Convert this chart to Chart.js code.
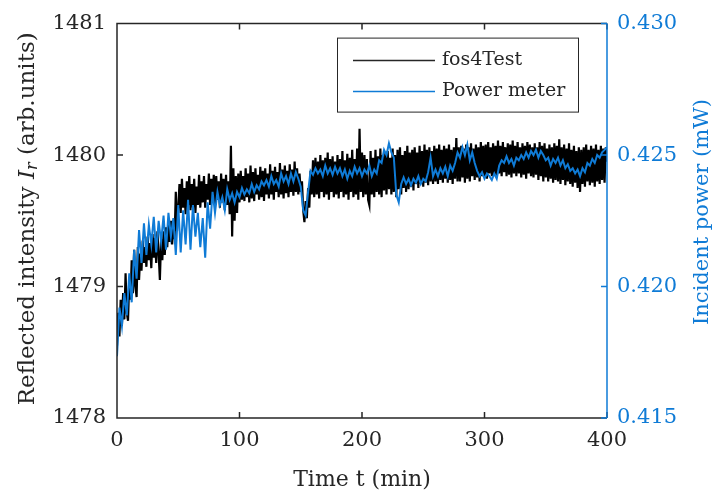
<!DOCTYPE html>
<html>
<head>
<meta charset="utf-8">
<script src="https://cdn.jsdelivr.net/npm/chart.js@4.4.1/dist/chart.umd.min.js"></script>
<style>
  body { margin: 0; background: #ffffff; }
  #chart { display: block; }
</style>
</head>
<body>
<canvas id="chart" width="718" height="501"></canvas>
<script>

// sample spacing (min): fos4Test every minute, power meter every 2 min
var stepBlack = 1;
var stepBlue = 2;

// fos4Test reflected intensity (arb.units), t = 0 .. 400 min
var fos4Test = [
  1478.55, 1478.8, 1478.62, 1478.9, 1478.7, 1478.95, 1478.75, 1479.1, 1478.8, 1478.74,
  1479.05, 1478.9, 1479.2, 1478.95, 1479.28, 1479.0, 1478.92, 1479.3, 1479.05, 1479.25,
  1479.12, 1479.35, 1479.18, 1479.3, 1479.15, 1479.38, 1479.2, 1479.33, 1479.14, 1479.4,
  1479.22, 1479.37, 1479.18, 1479.42, 1479.25, 1479.05, 1479.36, 1479.2, 1479.42, 1479.24,
  1479.45, 1479.3, 1479.48, 1479.34, 1479.5, 1479.32, 1479.46, 1479.36, 1479.72, 1479.42,
  1479.6, 1479.78, 1479.56, 1479.82, 1479.6, 1479.75, 1479.55, 1479.8, 1479.62, 1479.84,
  1479.58, 1479.78, 1479.6, 1479.82, 1479.56, 1479.76, 1479.62, 1479.85, 1479.6, 1479.8,
  1479.64, 1479.84, 1479.6, 1479.78, 1479.66, 1479.86, 1479.62, 1479.82, 1479.65, 1479.85,
  1479.62, 1479.84, 1479.66, 1479.8, 1479.6, 1479.86, 1479.64, 1479.82, 1479.58, 1479.85,
  1479.62, 1479.8, 1479.55, 1480.07, 1479.38, 1479.9, 1479.5, 1479.84, 1479.56, 1479.86,
  1479.64, 1479.88, 1479.66, 1479.84, 1479.65, 1479.9, 1479.68, 1479.86, 1479.64, 1479.92,
  1479.67, 1479.87, 1479.65, 1479.9, 1479.7, 1479.85, 1479.66, 1479.91, 1479.68, 1479.88,
  1479.65, 1479.9, 1479.7, 1479.86, 1479.67, 1479.93, 1479.7, 1479.88, 1479.66, 1479.91,
  1479.72, 1479.87, 1479.68, 1479.94, 1479.7, 1479.89, 1479.67, 1479.92, 1479.71, 1479.88,
  1479.68, 1479.93, 1479.72, 1479.89, 1479.69, 1479.95, 1479.72, 1479.9, 1479.7, 1479.86,
  1479.72, 1479.8, 1479.58, 1479.49, 1479.65, 1479.52, 1479.75, 1479.6, 1479.88, 1479.7,
  1479.96, 1479.68, 1479.98, 1479.7, 1479.95, 1479.67, 1480.0, 1479.72, 1479.96, 1479.68,
  1479.98, 1479.7, 1480.02, 1479.66, 1479.97, 1479.72, 1479.99, 1479.68, 1479.95, 1479.7,
  1480.0, 1479.67, 1479.97, 1479.72, 1480.03, 1479.68, 1479.96, 1479.7, 1480.01, 1479.66,
  1479.98, 1479.72, 1480.04, 1479.68, 1479.97, 1479.7, 1480.05, 1479.66, 1480.2, 1479.72,
  1480.02, 1479.68, 1480.0, 1479.7, 1479.97, 1479.66, 1479.62, 1480.03, 1479.7, 1479.98,
  1479.68, 1480.04, 1479.72, 1479.99, 1479.7, 1480.05, 1479.68, 1480.0, 1479.73, 1480.02,
  1479.7, 1480.03, 1479.74, 1479.98, 1479.7, 1480.05, 1479.72, 1480.0, 1479.68, 1480.04,
  1479.74, 1480.06, 1479.7, 1480.0, 1479.75, 1480.03, 1479.72, 1480.07, 1479.74, 1480.02,
  1479.76, 1480.04, 1479.73, 1480.06, 1479.78, 1480.02, 1479.75, 1480.07, 1479.78, 1480.03,
  1479.76, 1480.08, 1479.79, 1480.04, 1479.77, 1480.06, 1479.8, 1480.03, 1479.78, 1480.07,
  1479.8, 1480.05, 1479.78, 1480.08, 1479.81, 1480.04, 1479.79, 1480.07, 1479.82, 1480.05,
  1479.79, 1480.08, 1479.81, 1480.04, 1479.78, 1480.06, 1479.82, 1480.13, 1479.8, 1480.06,
  1479.8, 1480.07, 1479.83, 1480.05, 1479.79, 1480.08, 1479.82, 1480.06, 1479.8, 1480.09,
  1479.84, 1480.05, 1479.81, 1480.08, 1479.83, 1480.06, 1479.8, 1480.1, 1479.84, 1480.07,
  1479.84, 1480.08, 1479.82, 1480.1, 1479.86, 1480.06, 1479.84, 1480.09, 1479.85, 1480.07,
  1479.83, 1480.11, 1479.86, 1480.07, 1479.84, 1480.1, 1479.87, 1480.06, 1479.84, 1480.09,
  1479.85, 1480.08, 1479.83, 1480.11, 1479.86, 1480.07, 1479.84, 1480.1, 1479.86, 1480.06,
  1479.83, 1480.09, 1479.85, 1480.07, 1479.82, 1480.1, 1479.86, 1480.08, 1479.84, 1480.06,
  1479.83, 1480.09, 1479.85, 1480.06, 1479.81, 1480.1, 1479.84, 1480.07, 1479.8, 1480.09,
  1479.83, 1480.05, 1479.8, 1480.08, 1479.82, 1480.06, 1479.79, 1480.09, 1479.81, 1480.07,
  1479.8, 1480.12, 1479.78, 1480.06, 1479.81, 1480.08, 1479.77, 1480.05, 1479.8, 1480.09,
  1479.78, 1480.04, 1479.76, 1480.07, 1479.79, 1480.03, 1479.75, 1480.06, 1479.72, 1480.04,
  1479.78, 1480.06, 1479.76, 1480.08, 1479.8, 1480.04, 1479.77, 1480.07, 1479.79, 1480.05,
  1479.76, 1480.08, 1479.8, 1480.04, 1479.78, 1480.07, 1479.81, 1480.05, 1479.79, 1480.06,
  1479.95
];

// power meter incident power (mW), t = 0 .. 400 min
var powerMeter = [
  0.41735, 0.4192, 0.4185, 0.41975, 0.4189, 0.4205, 0.4194, 0.4214, 0.4203, 0.42215,
  0.4209, 0.4224, 0.4212, 0.42235, 0.4216, 0.42265, 0.4213, 0.4225, 0.4217, 0.4227,
  0.4214, 0.4228, 0.4219, 0.4226, 0.4212, 0.4231, 0.4213, 0.4229, 0.4216, 0.4233,
  0.4214, 0.4231, 0.4219, 0.4228, 0.4215, 0.4226, 0.4211, 0.4232, 0.4222, 0.4236,
  0.4228, 0.4236, 0.4231, 0.4234, 0.4229, 0.4237, 0.4233, 0.42355, 0.4232, 0.4236,
  0.4234, 0.42375, 0.4235, 0.4237, 0.42355, 0.4239, 0.4236, 0.42385, 0.4237, 0.4240,
  0.42385, 0.42405, 0.4238, 0.4242, 0.4239, 0.42405, 0.4238, 0.4243, 0.424, 0.4242,
  0.4239, 0.4243, 0.424, 0.42435, 0.4241, 0.4238, 0.4229, 0.4227, 0.4236, 0.4244,
  0.42425, 0.4245, 0.4243, 0.42445, 0.4242, 0.4246, 0.4243, 0.4245, 0.42425, 0.42455,
  0.4243, 0.4245, 0.4242, 0.42445, 0.4241, 0.4244, 0.4242, 0.42455, 0.4243, 0.4245,
  0.4242, 0.42445, 0.4243, 0.4246, 0.4242, 0.42445, 0.4243, 0.4248, 0.4247, 0.4252,
  0.4250, 0.42545, 0.4251, 0.4249, 0.4235, 0.4232, 0.4239, 0.42415, 0.4239, 0.4241,
  0.42385, 0.4241, 0.42395, 0.4242, 0.4239, 0.4241, 0.4240, 0.42435, 0.4249, 0.4242,
  0.42445, 0.4242, 0.4245, 0.4243, 0.42455, 0.4242, 0.4246, 0.4244, 0.4247, 0.4251,
  0.4249, 0.4253, 0.4250, 0.4254, 0.4248, 0.4251, 0.4247, 0.4244, 0.4242, 0.42435,
  0.4241, 0.4243, 0.4242, 0.42405, 0.4243, 0.4241, 0.4246, 0.4248, 0.4247, 0.42495,
  0.4247, 0.42485, 0.4246, 0.4249, 0.4248, 0.4250, 0.42485, 0.4251, 0.4249, 0.42515,
  0.4250, 0.4252, 0.4249, 0.42515, 0.4250, 0.4248, 0.4249, 0.4246, 0.42485, 0.4247,
  0.4249, 0.4246, 0.4248, 0.4245, 0.42465, 0.4244, 0.4245, 0.4243, 0.42445, 0.4242,
  0.4245, 0.42435, 0.4247, 0.4246, 0.42485, 0.4247, 0.4250, 0.4249, 0.4251, 0.4252,
  0.4253
];

var xTicks = [0, 100, 200, 300, 400];
var leftTicks = [1478, 1479, 1480, 1481];
var rightTicks = [0.415, 0.420, 0.425, 0.430];

var labelBlack = "fos4Test";
var labelBlue = "Power meter";
var xTitle = "Time t (min)";
var rightTitle = "Incident power (mW)";

var FONT = '"DejaVu Serif", serif';
var TXT = '#262626';
var BLUE = '#0f7bd6';

function toPoints(values, step)
{
    var pts = [];
    for (var i = 0; i < values.length; i++)
        pts.push({x: i * step, y: values[i]});
    return pts;
}

// box, inward ticks, rotated titles and the framed legend
var framePlugin = {
    id: 'frame',
    afterDraw: function(chart)
    {
        var ctx = chart.ctx;
        var a = chart.chartArea;
        var sx = chart.scales.x, sy = chart.scales.y, sy1 = chart.scales.y1;
        var tl = 6;
        ctx.save();
        ctx.lineWidth = 1.5;

        // black part of box + ticks
        ctx.strokeStyle = TXT;
        ctx.beginPath();
        ctx.moveTo(a.right, a.top); ctx.lineTo(a.left, a.top);
        ctx.lineTo(a.left, a.bottom); ctx.lineTo(a.right, a.bottom);
        xTicks.forEach(function(v) {
            var px = sx.getPixelForValue(v);
            ctx.moveTo(px, a.bottom); ctx.lineTo(px, a.bottom - tl);
            ctx.moveTo(px, a.top); ctx.lineTo(px, a.top + tl);
        });
        leftTicks.forEach(function(v) {
            var py = sy.getPixelForValue(v);
            ctx.moveTo(a.left, py); ctx.lineTo(a.left + tl, py);
        });
        ctx.stroke();

        // blue right axis
        ctx.strokeStyle = BLUE;
        ctx.beginPath();
        ctx.moveTo(a.right, a.top); ctx.lineTo(a.right, a.bottom);
        rightTicks.forEach(function(v) {
            var py = sy1.getPixelForValue(v);
            ctx.moveTo(a.right, py); ctx.lineTo(a.right - tl, py);
        });
        ctx.stroke();

        // left title with italic I_r
        var cy = (a.top + a.bottom) / 2;
        var parts = [
            {t: "Reflected intensity ", f: '23px ' + FONT, dy: 0},
            {t: "I", f: 'italic 23px ' + FONT, dy: 0},
            {t: "r", f: 'italic 16px ' + FONT, dy: 5},
            {t: " (arb.units)", f: '23px ' + FONT, dy: 0}
        ];
        var total = 0;
        parts.forEach(function(p) { ctx.font = p.f; p.w = ctx.measureText(p.t).width; total += p.w; });
        ctx.translate(28, cy - 2);
        ctx.rotate(-Math.PI / 2);
        ctx.fillStyle = TXT;
        ctx.textBaseline = 'middle';
        ctx.textAlign = 'left';
        var pos = -total / 2;
        parts.forEach(function(p) { ctx.font = p.f; ctx.fillText(p.t, pos, p.dy); pos += p.w; });
        ctx.setTransform(1, 0, 0, 1, 0, 0);

        // right title
        ctx.translate(703, 212);
        ctx.rotate(-Math.PI / 2);
        ctx.font = '21px ' + FONT;
        ctx.fillStyle = BLUE;
        ctx.textAlign = 'center';
        ctx.textBaseline = 'middle';
        ctx.fillText(rightTitle, 0, 0);
        ctx.setTransform(1, 0, 0, 1, 0, 0);

        // legend
        var bx = a.right - 270, by = a.top + 14, bw = 241, bh = 74;
        ctx.fillStyle = '#ffffff';
        ctx.fillRect(bx, by, bw, bh);
        ctx.lineWidth = 1;
        ctx.strokeStyle = TXT;
        ctx.strokeRect(bx + 0.5, by + 0.5, bw, bh);
        var items = [[labelBlack, TXT, by + 23], [labelBlue, BLUE, by + 54]];
        ctx.font = '19px ' + FONT;
        ctx.textAlign = 'left';
        ctx.textBaseline = 'middle';
        items.forEach(function(it) {
            ctx.strokeStyle = it[1];
            ctx.lineWidth = 1.5;
            ctx.beginPath();
            ctx.moveTo(bx + 16, it[2]); ctx.lineTo(bx + 98, it[2]);
            ctx.stroke();
            ctx.fillStyle = TXT;
            ctx.fillText(it[0], bx + 105, it[2] - 1);
        });
        ctx.restore();
    }
};

var ctx = document.getElementById("chart").getContext("2d");
new Chart(ctx, {
    type: 'line',
    data: {
        datasets: [
            {
                label: labelBlack,
                data: toPoints(fos4Test, stepBlack),
                yAxisID: 'y',
                borderColor: '#000000',
                borderWidth: 2.2,
                pointRadius: 0,
                tension: 0,
                order: 1
            },
            {
                label: labelBlue,
                data: toPoints(powerMeter, stepBlue),
                yAxisID: 'y1',
                borderColor: BLUE,
                borderWidth: 2,
                pointRadius: 0,
                tension: 0,
                order: 0
            }
        ]
    },
    options: {
        responsive: false,
        animation: false,
        devicePixelRatio: 1,
        layout: {padding: {top: 15, left: 0, right: 0, bottom: 0}},
        plugins: {legend: {display: false}, tooltip: {enabled: false}},
        scales: {
            x: {
                type: 'linear',
                min: 0, max: 400,
                afterBuildTicks: function(s) { s.ticks = xTicks.map(function(v) { return {value: v}; }); },
                afterFit: function(s) { s.height = 83; },
                grid: {display: false, drawTicks: false},
                border: {display: false},
                ticks: {font: {family: FONT, size: 21}, color: TXT, padding: 10, maxRotation: 0,
                        callback: function(v) { return String(v); }},
                title: {display: true, text: xTitle, font: {family: FONT, size: 22}, color: TXT, padding: {top: 6, bottom: 8}}
            },
            y: {
                position: 'left',
                min: 1478, max: 1481,
                afterBuildTicks: function(s) { s.ticks = leftTicks.map(function(v) { return {value: v}; }); },
                afterFit: function(s) { s.width = 117; },
                grid: {display: false, drawTicks: false},
                border: {display: false},
                ticks: {font: {family: FONT, size: 21}, color: TXT, padding: 11,
                        callback: function(v) { return String(v); }}
            },
            y1: {
                position: 'right',
                min: 0.415, max: 0.430,
                afterBuildTicks: function(s) { s.ticks = rightTicks.map(function(v) { return {value: v}; }); },
                afterFit: function(s) { s.width = 111; },
                grid: {display: false, drawTicks: false},
                border: {display: false},
                ticks: {font: {family: FONT, size: 21}, color: BLUE, padding: 10,
                         callback: function(v) { return v.toFixed(3); }}
            }
        }
    },
    plugins: [framePlugin]
});
</script>
</body>
</html>
